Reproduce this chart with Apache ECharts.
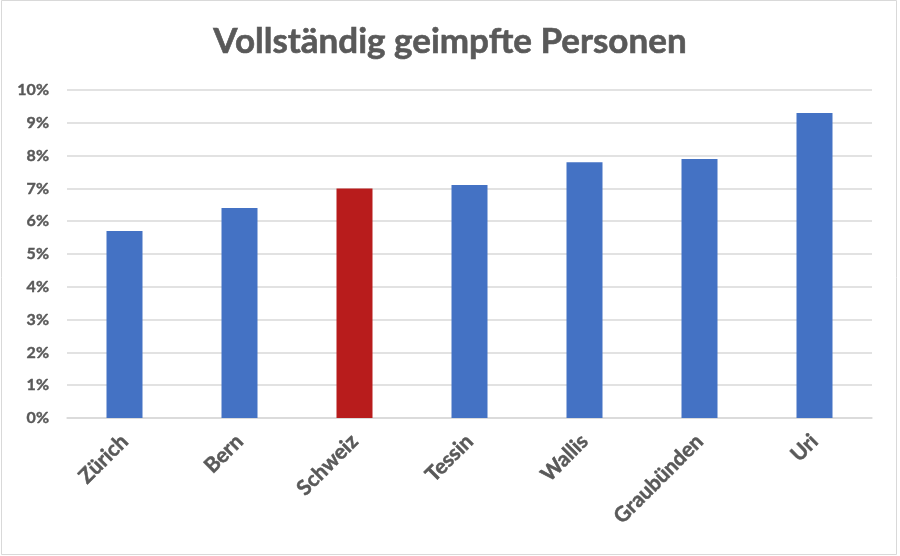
<!DOCTYPE html>
<html>
<head>
<meta charset="utf-8">
<script src="https://cdn.jsdelivr.net/npm/echarts@6/dist/echarts.min.js"></script>
<style>
  html, body { margin: 0; padding: 0; background: #fff; }
  #chart { width: 900px; height: 556px; }
</style>
</head>
<body>
<div id="chart"></div>
<script>
const kantone = ['Zürich', 'Bern', 'Schweiz', 'Tessin', 'Wallis', 'Graubünden', 'Uri']
const anteil = [5.7, 6.4, 7.0, 7.1, 7.8, 7.9, 9.3]
const hervorheben = 'Schweiz'

const blau = '#4472C4'
const rot = '#B81C1C'
const textFarbe = '#595959'

const chart = echarts.init(document.getElementById('chart'))
const option = {
  backgroundColor: '#fff',
  animation: false,
  title: {
    text: 'Vollständig geimpfte Personen',
    left: 'center',
    top: 19,
    textStyle: {
      fontFamily: 'Lato',
      fontWeight: 'bold',
      fontSize: 35,
      color: textFarbe,
      textBorderColor: textFarbe,
      textBorderWidth: 0.6
    }
  },
  graphic: [{
    type: 'rect',
    shape: { x: 1.5, y: 0.5, width: 895, height: 554 },
    style: { fill: 'none', stroke: '#d9d9d9', lineWidth: 1 },
    silent: true
  }],
  grid: { left: 67, right: 28, top: 90, bottom: 138 },
  xAxis: {
    type: 'category',
    data: kantone,
    axisTick: { show: false },
    axisLine: { lineStyle: { color: '#d9d9d9', width: 1.5 } },
    axisLabel: {
      rotate: 45,
      margin: 20,
      fontFamily: 'Lato',
      fontWeight: 'bold',
      fontSize: 21,
      color: textFarbe,
      textBorderColor: textFarbe,
      textBorderWidth: 0.5
    }
  },
  yAxis: {
    type: 'value',
    min: 0,
    max: 10,
    interval: 1,
    axisLine: { show: false },
    axisTick: { show: false },
    splitLine: { lineStyle: { color: '#d9d9d9', width: 1.5 } },
    axisLabel: {
      formatter: '{value}%',
      margin: 18,
      fontFamily: 'Lato',
      fontWeight: 'bold',
      fontSize: 16,
      color: textFarbe,
      textBorderColor: textFarbe,
      textBorderWidth: 0.4
    }
  },
  series: [{
    type: 'bar',
    barWidth: 36,
    data: anteil.map((v, i) => ({
      value: v,
      itemStyle: { color: kantone[i] === hervorheben ? rot : blau }
    }))
  }]
}
chart.setOption(option)
</script>
</body>
</html>
